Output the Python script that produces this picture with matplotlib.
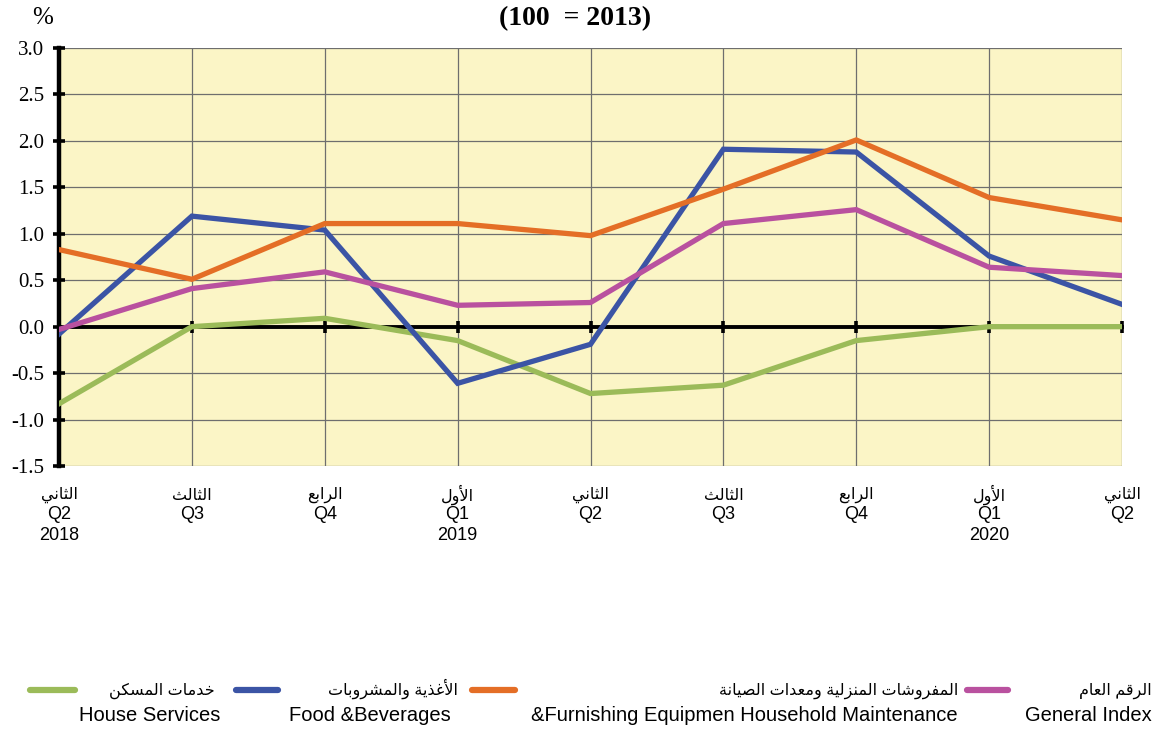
import numpy as np
import matplotlib
matplotlib.use("Agg")
import matplotlib.pyplot as plt
from matplotlib.lines import Line2D

# ---- data --------------------------------------------------------------
quarters_ar = ["الثاني", "الثالث", "الرابع", "الأول", "الثاني",
               "الثالث", "الرابع", "الأول", "الثاني"]
quarters_en = ["Q2", "Q3", "Q4", "Q1", "Q2", "Q3", "Q4", "Q1", "Q2"]
years = ["2018", "", "", "2019", "", "", "", "2020", ""]

house = [-0.83, 0.00, 0.09, -0.15, -0.72, -0.63, -0.15, 0.00, 0.00]
food = [-0.08, 1.19, 1.04, -0.61, -0.19, 1.91, 1.88, 0.76, 0.24]
furnish = [0.83, 0.51, 1.11, 1.11, 0.98, 1.48, 2.01, 1.39, 1.15]
general = [-0.03, 0.41, 0.59, 0.23, 0.26, 1.11, 1.26, 0.64, 0.55]

names_ar = ["خدمات المسكن", "الأغذية والمشروبات",
            "المفروشات المنزلية ومعدات الصيانة", "الرقم العام"]
names_en = ["House Services", "Food &Beverages",
            "&Furnishing Equipmen Household Maintenance", "General Index"]
colors = ["#9bbb59", "#3b54a5", "#e46e26", "#b9519f"]

yticks = np.arange(-1.5, 3.01, 0.5)

# ---- minimal Arabic shaping (matplotlib has no complex text layout) ----
# letter: (isolated, final, initial, medial); None initial => right-joining
FORMS = {
    "ا": (0xFE8D, 0xFE8E, None, None), "أ": (0xFE83, 0xFE84, None, None),
    "ب": (0xFE8F, 0xFE90, 0xFE91, 0xFE92), "ة": (0xFE93, 0xFE94, None, None),
    "ت": (0xFE95, 0xFE96, 0xFE97, 0xFE98), "ث": (0xFE99, 0xFE9A, 0xFE9B, 0xFE9C),
    "خ": (0xFEA5, 0xFEA6, 0xFEA7, 0xFEA8), "د": (0xFEA9, 0xFEAA, None, None),
    "ذ": (0xFEAB, 0xFEAC, None, None), "ر": (0xFEAD, 0xFEAE, None, None),
    "ز": (0xFEAF, 0xFEB0, None, None), "س": (0xFEB1, 0xFEB2, 0xFEB3, 0xFEB4),
    "ش": (0xFEB5, 0xFEB6, 0xFEB7, 0xFEB8), "ص": (0xFEB9, 0xFEBA, 0xFEBB, 0xFEBC),
    "ع": (0xFEC9, 0xFECA, 0xFECB, 0xFECC), "غ": (0xFECD, 0xFECE, 0xFECF, 0xFED0),
    "ف": (0xFED1, 0xFED2, 0xFED3, 0xFED4), "ق": (0xFED5, 0xFED6, 0xFED7, 0xFED8),
    "ك": (0xFED9, 0xFEDA, 0xFEDB, 0xFEDC), "ل": (0xFEDD, 0xFEDE, 0xFEDF, 0xFEE0),
    "م": (0xFEE1, 0xFEE2, 0xFEE3, 0xFEE4), "ن": (0xFEE5, 0xFEE6, 0xFEE7, 0xFEE8),
    "و": (0xFEED, 0xFEEE, None, None), "ي": (0xFEF1, 0xFEF2, 0xFEF3, 0xFEF4),
}
LAM_ALEF = {"ا": (0xFEFB, 0xFEFC), "أ": (0xFEF7, 0xFEF8)}


def shape(text):
    out = []
    for word in text.split(" "):
        # merge lam+alef into ligature tokens
        toks = []
        i = 0
        while i < len(word):
            if word[i] == "ل" and i + 1 < len(word) and word[i + 1] in LAM_ALEF:
                toks.append(("LA", word[i + 1]))
                i += 2
            else:
                toks.append(("C", word[i]))
                i += 1
        glyphs = []
        for k, (kind, ch) in enumerate(toks):
            prev = toks[k - 1] if k > 0 else None
            nxt = toks[k + 1] if k + 1 < len(toks) else None
            join_prev = prev is not None and prev[0] == "C" and FORMS[prev[1]][2] is not None
            if kind == "LA":
                iso, fin = LAM_ALEF[ch]
                glyphs.append(chr(fin if join_prev else iso))
                continue
            iso, fin, ini, med = FORMS[ch]
            join_next = nxt is not None and ini is not None
            if join_prev and join_next:
                g = med
            elif join_prev:
                g = fin
            elif join_next:
                g = ini
            else:
                g = iso
            glyphs.append(chr(g))
        out.append("".join(glyphs))
    return " ".join(out)[::-1]


SANS = ["Liberation Sans", "DejaVu Sans"]
SERIF = ["Liberation Serif", "DejaVu Serif"]
W, H = 1157, 729

# ---- figure ------------------------------------------------------------
fig = plt.figure(figsize=(W / 100, H / 100), dpi=100)
ax = fig.add_axes([59 / W, 1 - 466 / H, (1122 - 59) / W, (466 - 48) / H])
ax.set_facecolor("#fbf5c6")

x = np.arange(len(quarters_en))
for vals, c in zip([house, food, furnish, general], colors):
    ax.plot(x, vals, color=c, lw=3.8, solid_joinstyle="miter", zorder=3)

ax.set_xlim(0, 8)
ax.set_ylim(-1.5, 3.0)
ax.set_yticks(yticks)
ax.set_yticklabels([f"{v:.1f}" for v in yticks], family=SERIF, fontsize=15)
ax.set_xticks(x)
ax.set_xticklabels([])
ax.grid(True, color="#6e6e6e", lw=0.9, zorder=1)

for s in ["top", "right"]:
    ax.spines[s].set_visible(False)
ax.spines["left"].set_linewidth(3.2)
ax.spines["bottom"].set_position(("data", 0))
ax.spines["bottom"].set_linewidth(2.8)
ax.spines["bottom"].set_zorder(2.5)
ax.tick_params(axis="y", direction="inout", length=9, width=2.6, pad=6)
ax.tick_params(axis="x", direction="inout", length=9, width=2.6)

# category labels (three rows)
trans = ax.get_xaxis_transform()
for i in x:
    ax.text(i, -0.07, shape(quarters_ar[i]), transform=trans, ha="center",
            va="center", family=SANS, fontsize=11.5)
    ax.text(i, -0.115, quarters_en[i], transform=trans, ha="center",
            va="center", family=SANS, fontsize=13)
    ax.text(i, -0.167, years[i], transform=trans, ha="center",
            va="center", family=SANS, fontsize=13)

fig.text(43 / W, 1 - 18 / H, "%", family=SERIF, fontsize=18,
         ha="center", va="center")
fig.text(575 / W, 1 - 19 / H, "(100  = 2013)", family=SERIF,
         fontsize=20, weight="bold", ha="center", va="center")

# legend
key_x = [(30, 75), (236, 278), (472, 515), (967, 1008)]
lab_right = [(215, 220), (458, 451), (958, 958), (1152, 1152)]
for (x0, x1), (ra, re), c, na, ne in zip(key_x, lab_right, colors, names_ar, names_en):
    fig.add_artist(Line2D([x0 / W, x1 / W], [1 - 690 / H] * 2,
                          color=c, lw=4.5, solid_capstyle="round"))
    fig.text(ra / W, 1 - 695 / H, shape(na), family=SANS, fontsize=11.5,
             ha="right", va="baseline")
    fig.text(re / W, 1 - 721 / H, ne, family=SANS, fontsize=14.5,
             ha="right", va="baseline")

fig.savefig("out.png", dpi=100)
